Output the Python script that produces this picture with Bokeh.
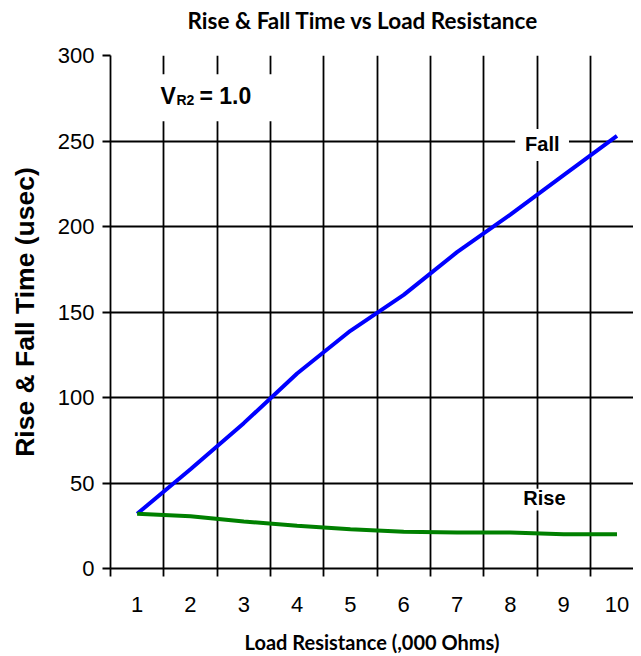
from bokeh.plotting import figure
from bokeh.models import FixedTicker, Label, BoxAnnotation, Range1d
from bokeh.embed import file_html
from bokeh.resources import INLINE

# ---- data ----
load_kohm = [1, 2, 3, 4, 5, 6, 7, 8, 9, 10]
fall_time = [32, 58, 85, 114, 139, 160, 185, 207, 230, 253]
rise_time = [32, 30.5, 27.5, 25, 23, 21.5, 21, 21, 20, 20]
y_ticks = [0, 50, 100, 150, 200, 250, 300]

title_text = "Rise & Fall Time vs Load Resistance"
x_label = "Load Resistance (,000 Ohms)"
y_label = "Rise & Fall Time (usec)"

boundaries = [v - 0.5 for v in load_kohm] + [load_kohm[-1] + 0.5]

p = figure(frame_width=523, frame_height=513,
           x_range=Range1d(0.5, 10.31), y_range=Range1d(0, 300),
           output_backend="svg", toolbar_location=None,
           min_border_left=110, min_border_right=0,
           min_border_top=0, min_border_bottom=80,
           styles={"margin-top": "-17px"})

p.outline_line_color = None
p.background_fill_color = "white"
p.border_fill_color = "white"

# title
p.title.text = title_text
p.title.align = "left"
p.title.offset = 77
p.title.vertical_align = "bottom"
p.title.standoff = 43
p.title.text_font = "Lato"
p.title.text_font_style = "bold"
p.title.text_font_size = "22.5px"
p.title.text_color = "black"

# grids
p.xgrid.ticker = FixedTicker(ticks=boundaries[1:-1])
p.ygrid.ticker = FixedTicker(ticks=y_ticks)
for g in (p.xgrid, p.ygrid):
    g.grid_line_color = "black"
    g.grid_line_width = 1.8
    g.grid_line_alpha = 1.0

# x axis
p.xaxis.ticker = FixedTicker(ticks=load_kohm, minor_ticks=boundaries)
p.xaxis.major_tick_out = 0
p.xaxis.major_tick_in = 0
p.xaxis.minor_tick_out = 8
p.xaxis.minor_tick_in = 0
p.xaxis.minor_tick_line_color = "black"
p.xaxis.minor_tick_line_width = 1.8
p.xaxis.axis_line_color = "black"
p.xaxis.axis_line_width = 1.8
p.xaxis.major_label_text_font = "Liberation Sans"
p.xaxis.major_label_text_font_size = "22px"
p.xaxis.major_label_text_color = "black"
p.xaxis.major_label_standoff = 20
p.xaxis.axis_label = x_label
p.xaxis.axis_label_text_font = "Lato"
p.xaxis.axis_label_text_font_style = "bold"
p.xaxis.axis_label_text_font_size = "20px"
p.xaxis.axis_label_text_color = "black"
p.xaxis.axis_label_standoff = 15

# y axis
p.yaxis.ticker = FixedTicker(ticks=y_ticks)
p.yaxis.major_tick_out = 8
p.yaxis.major_tick_in = 0
p.yaxis.minor_tick_out = 0
p.yaxis.minor_tick_in = 0
p.yaxis.major_tick_line_color = "black"
p.yaxis.major_tick_line_width = 1.8
p.yaxis.axis_line_color = "black"
p.yaxis.axis_line_width = 1.8
p.yaxis.major_label_text_font = "Liberation Sans"
p.yaxis.major_label_text_font_size = "22px"
p.yaxis.major_label_text_color = "black"
p.yaxis.major_label_standoff = 8
p.yaxis.axis_label = y_label
p.yaxis.axis_label_text_font = "Liberation Sans"
p.yaxis.axis_label_text_font_style = "bold"
p.yaxis.axis_label_text_font_size = "26.5px"
p.yaxis.axis_label_text_color = "black"
p.yaxis.axis_label_standoff = 15

# series
p.line(load_kohm, fall_time, line_color="#0000FF", line_width=4)
p.line(load_kohm, rise_time, line_color="#008000", line_width=4)

# white boxes behind annotations
for l, r, b, t in [(0.78, 4.05, 261.5, 289.0),
                   (8.09, 9.10, 238.3, 257.0),
                   (8.09, 9.20, 33.9, 46.7)]:
    p.add_layout(BoxAnnotation(left=l, right=r, bottom=b, top=t,
                               fill_color="white", fill_alpha=1.0,
                               line_alpha=0, level="overlay"))

ann_font = "Liberation Sans"
labels = [
    Label(x=1.438, y=276.2, text="V", text_font=ann_font, text_font_style="bold",
          text_font_size="23px", text_baseline="alphabetic", text_align="left"),
    Label(x=1.438, y=273.8, x_offset=16, text="R2", text_font=ann_font,
          text_font_style="bold", text_font_size="14px",
          text_baseline="alphabetic", text_align="left"),
    Label(x=1.438, y=276.2, x_offset=39, text="= 1.0", text_font=ann_font,
          text_font_style="bold", text_font_size="23px",
          text_baseline="alphabetic", text_align="left"),
    Label(x=8.60, y=248.2, text="Fall", text_font=ann_font, text_font_style="bold",
          text_font_size="20px", text_baseline="alphabetic", text_align="center"),
    Label(x=8.64, y=41.2, text="Rise", text_font=ann_font, text_font_style="bold",
          text_font_size="20px", text_baseline="alphabetic", text_align="center"),
]
for lb in labels:
    lb.level = "overlay"
    lb.text_color = "black"
    p.add_layout(lb)

open("out.html", "w").write(file_html(p, INLINE))
